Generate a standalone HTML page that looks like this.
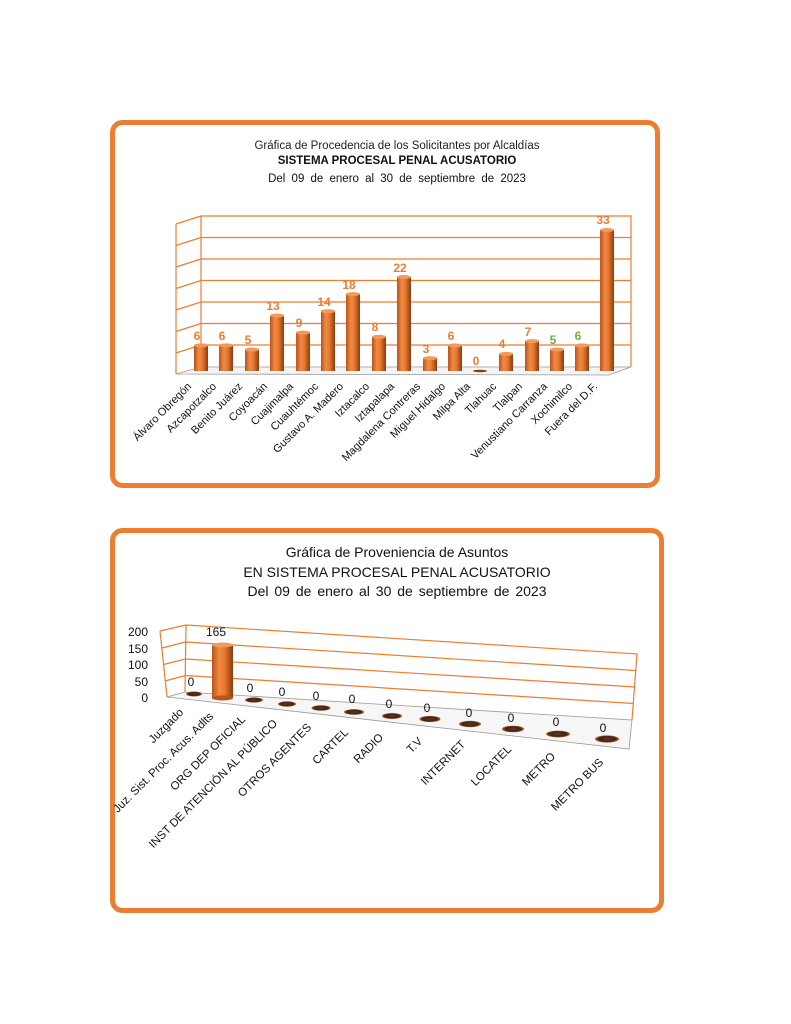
<!DOCTYPE html>
<html><head><meta charset="utf-8"><style>
html,body{margin:0;padding:0;background:#fff;}
svg{display:block;font-family:"Liberation Sans",sans-serif;}
</style></head><body>
<svg width="791" height="1024" viewBox="0 0 791 1024" xmlns="http://www.w3.org/2000/svg">
<defs>
<linearGradient id="cyl" x1="0" x2="1" y1="0" y2="0">
<stop offset="0" stop-color="#b8551a"/><stop offset="0.35" stop-color="#f08a45"/><stop offset="0.6" stop-color="#e8782f"/><stop offset="1" stop-color="#8a3c10"/>
</linearGradient>
<radialGradient id="disk"><stop offset="0" stop-color="#5a3a28"/><stop offset="0.7" stop-color="#3a2418"/><stop offset="1" stop-color="#c8661f"/></radialGradient>
</defs>
<!-- Chart 1 frame -->
<rect x="112.5" y="122.5" width="545" height="363" rx="10" fill="#fff" stroke="#ED7D31" stroke-width="5"/>
<text x="397" y="149" font-size="11.5" text-anchor="middle" fill="#222">Gráfica de Procedencia de los Solicitantes por Alcaldías</text>
<text x="397" y="164" font-size="11.5" font-weight="bold" text-anchor="middle" fill="#111">SISTEMA PROCESAL PENAL ACUSATORIO</text>
<text x="397" y="182" font-size="11.5" text-anchor="middle" fill="#111" word-spacing="3">Del 09 de enero al 30 de septiembre de 2023</text>
<g stroke="#ED7D31" stroke-width="1.2" fill="none">
<path d="M201 216 H631 V367 M201 216 V370"/>
<path d="M201 237.5H631M201 259H631M201 280.5H631M201 302H631M201 323.5H631M201 345H631"/>
<path d="M176 224 V374 M176 224 L201 216 M176 245.5L201 237.5M176 267L201 259M176 288.5L201 280.5M176 310L201 302M176 331.5L201 323.5M176 353L201 345"/>
</g>
<path d="M176 374 L201 367 H631 L609 375 Z" fill="#f4f4f4" stroke="#999" stroke-width="0.8"/>
<g font-size="11" fill="#111" text-anchor="end">
<text transform="translate(192,387) rotate(-45)">Álvaro Obregón</text>
<text transform="translate(217,387) rotate(-45)">Azcapotzalco</text>
<text transform="translate(243,387) rotate(-45)">Benito Juárez</text>
<text transform="translate(268,387) rotate(-45)">Coyoacán</text>
<text transform="translate(294,387) rotate(-45)">Cuajimalpa</text>
<text transform="translate(319,387) rotate(-45)">Cuauhtémoc</text>
<text transform="translate(344,387) rotate(-45)">Gustavo A. Madero</text>
<text transform="translate(370,387) rotate(-45)">Iztacalco</text>
<text transform="translate(395,387) rotate(-45)">Iztapalapa</text>
<text transform="translate(421,387) rotate(-45)">Magdalena Contreras</text>
<text transform="translate(446,387) rotate(-45)">Miguel Hidalgo</text>
<text transform="translate(471,387) rotate(-45)">Milpa Alta</text>
<text transform="translate(497,387) rotate(-45)">Tlahuac</text>
<text transform="translate(523,387) rotate(-45)">Tlalpan</text>
<text transform="translate(548,387) rotate(-45)">Venustiano Carranza</text>
<text transform="translate(573,387) rotate(-45)">Xochimilco</text>
<text transform="translate(598,387) rotate(-45)">Fuera del D.F.</text>
</g>
<g>
<rect x="194" y="345.4" width="14" height="25.6" fill="url(#cyl)"/><ellipse cx="201" cy="345.4" rx="7" ry="2" fill="#f29a5c"/>
<rect x="219" y="345.4" width="14" height="25.6" fill="url(#cyl)"/><ellipse cx="226" cy="345.4" rx="7" ry="2" fill="#f29a5c"/>
<rect x="245" y="349.6" width="14" height="21.4" fill="url(#cyl)"/><ellipse cx="252" cy="349.6" rx="7" ry="2" fill="#f29a5c"/>
<rect x="270" y="315.5" width="14" height="55.5" fill="url(#cyl)"/><ellipse cx="277" cy="315.5" rx="7" ry="2" fill="#f29a5c"/>
<rect x="296" y="332.6" width="14" height="38.4" fill="url(#cyl)"/><ellipse cx="303" cy="332.6" rx="7" ry="2" fill="#f29a5c"/>
<rect x="321" y="311.2" width="14" height="59.8" fill="url(#cyl)"/><ellipse cx="328" cy="311.2" rx="7" ry="2" fill="#f29a5c"/>
<rect x="346" y="294.1" width="14" height="76.9" fill="url(#cyl)"/><ellipse cx="353" cy="294.1" rx="7" ry="2" fill="#f29a5c"/>
<rect x="372" y="336.8" width="14" height="34.2" fill="url(#cyl)"/><ellipse cx="379" cy="336.8" rx="7" ry="2" fill="#f29a5c"/>
<rect x="397" y="277" width="14" height="94" fill="url(#cyl)"/><ellipse cx="404" cy="277" rx="7" ry="2" fill="#f29a5c"/>
<rect x="423" y="358.2" width="14" height="12.8" fill="url(#cyl)"/><ellipse cx="430" cy="358.2" rx="7" ry="2" fill="#f29a5c"/>
<rect x="448" y="345.4" width="14" height="25.6" fill="url(#cyl)"/><ellipse cx="455" cy="345.4" rx="7" ry="2" fill="#f29a5c"/>
<ellipse cx="480" cy="371" rx="7" ry="1.2" fill="#8a3c10"/>
<rect x="499" y="353.9" width="14" height="17.1" fill="url(#cyl)"/><ellipse cx="506" cy="353.9" rx="7" ry="2" fill="#f29a5c"/>
<rect x="525" y="341.1" width="14" height="29.9" fill="url(#cyl)"/><ellipse cx="532" cy="341.1" rx="7" ry="2" fill="#f29a5c"/>
<rect x="550" y="349.6" width="14" height="21.4" fill="url(#cyl)"/><ellipse cx="557" cy="349.6" rx="7" ry="2" fill="#f29a5c"/>
<rect x="575" y="345.4" width="14" height="25.6" fill="url(#cyl)"/><ellipse cx="582" cy="345.4" rx="7" ry="2" fill="#f29a5c"/>
<rect x="600" y="230" width="14" height="141" fill="url(#cyl)"/><ellipse cx="607" cy="230" rx="7" ry="2" fill="#f29a5c"/>
</g>
<g font-size="12" font-weight="bold" fill="#ED7D31" text-anchor="middle">
<text x="197" y="340">6</text><text x="222" y="340">6</text><text x="248" y="344">5</text><text x="273" y="310">13</text>
<text x="299" y="327">9</text><text x="324" y="306">14</text><text x="349" y="289">18</text><text x="375" y="331">8</text>
<text x="400" y="272">22</text><text x="426" y="353">3</text><text x="451" y="340">6</text><text x="476" y="365">0</text>
<text x="502" y="348">4</text><text x="528" y="336">7</text><text x="553" y="344" fill="#70AD47">5</text><text x="578" y="340" fill="#70AD47">6</text>
<text x="603" y="224">33</text>
</g>

<!-- Chart 2 frame -->
<rect x="112.5" y="530.5" width="549" height="380" rx="10" fill="#fff" stroke="#ED7D31" stroke-width="5"/>
<g font-size="14" text-anchor="middle" fill="#111">
<text x="397" y="557">Gráfica de Proveniencia de Asuntos</text>
<text x="397" y="577">EN SISTEMA PROCESAL PENAL ACUSATORIO</text>
<text x="397" y="596" word-spacing="2">Del 09 de enero al 30 de septiembre de 2023</text>
</g>
<g stroke="#ED7D31" stroke-width="1.2" fill="none">
<path d="M186 625 L637 654 L632 720 M186 625 L185 692"/>
<path d="M186 642 L636 670.5M185.5 659 L635 687M185.5 675.5 L633.5 703.5"/>
<path d="M160 631 L167 697 M160 631 L186 625 M162 648 L185.5 642 M163.5 664.5 L185.5 659 M165 681 L185.5 675.5"/>
</g>
<path d="M167 697 L185 692 L632 720 L629 749 Z" fill="#f6f6f6" stroke="#999" stroke-width="0.8"/>
<g font-size="12" fill="#111" text-anchor="end">
<text x="148" y="636">200</text><text x="148" y="653">150</text><text x="148" y="669">100</text><text x="148" y="686">50</text><text x="148" y="702">0</text>
</g>
<g fill="url(#disk)">
<ellipse cx="194" cy="694" rx="8" ry="2.5"/><ellipse cx="254" cy="700" rx="9" ry="2.6"/><ellipse cx="287" cy="704" rx="9" ry="2.7"/>
<ellipse cx="321" cy="708" rx="9.5" ry="2.8"/><ellipse cx="354" cy="712" rx="10" ry="2.9"/><ellipse cx="392" cy="716" rx="10" ry="3"/>
<ellipse cx="430" cy="719" rx="10.5" ry="3.1"/><ellipse cx="470" cy="724" rx="11" ry="3.2"/><ellipse cx="513" cy="729" rx="11" ry="3.3"/>
<ellipse cx="558" cy="734" rx="12" ry="3.4"/><ellipse cx="607" cy="739" rx="12" ry="3.6"/>
</g>
<rect x="212" y="645" width="21" height="53" fill="url(#cyl)"/><ellipse cx="222.5" cy="698" rx="10.5" ry="2.5" fill="#b8551a"/><ellipse cx="222.5" cy="645" rx="10.5" ry="2.5" fill="#f29a5c"/>
<g font-size="12" fill="#111" text-anchor="middle">
<text x="191" y="686">0</text><text x="216" y="636">165</text><text x="250" y="692">0</text><text x="282" y="696">0</text>
<text x="316" y="700">0</text><text x="352" y="703">0</text><text x="389" y="708">0</text><text x="427" y="712">0</text>
<text x="469" y="717">0</text><text x="511" y="722">0</text><text x="556" y="726">0</text><text x="603" y="732">0</text>
</g>
<g font-size="11.5" fill="#111" text-anchor="end">
<text transform="translate(184,713) rotate(-45)">Juzgado</text>
<text transform="translate(214,717) rotate(-45)">Juz. Sist. Proc. Acus. Adlts</text>
<text transform="translate(246,720) rotate(-45)">ORG DEP OFICIAL</text>
<text transform="translate(278,724) rotate(-45)">INST DE ATENCIÓN AL PÚBLICO</text>
<text transform="translate(312,728) rotate(-45)">OTROS AGENTES</text>
<text transform="translate(349,733) rotate(-45)">CARTEL</text>
<text transform="translate(384,738) rotate(-45)">RADIO</text>
<text transform="translate(423,742) rotate(-45)">T.V</text>
<text transform="translate(466,745) rotate(-45)">INTERNET</text>
<text transform="translate(512,750) rotate(-45)">LOCATEL</text>
<text transform="translate(556,757) rotate(-45)">METRO</text>
<text transform="translate(604,763) rotate(-45)">METRO BUS</text>
</g>
</svg>
</body></html>
